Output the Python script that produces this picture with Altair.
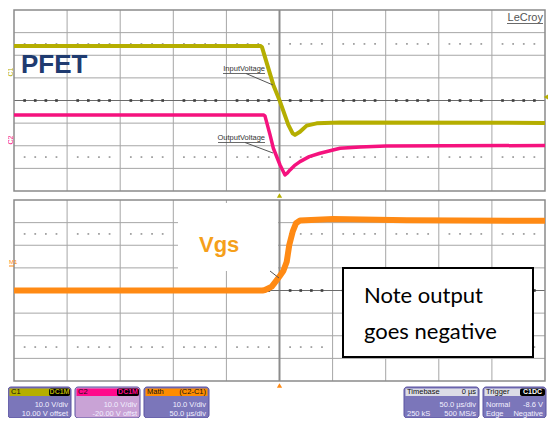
import altair as alt
import pandas as pd

# ---------------- values read from the screen capture ----------------
# time in microseconds (50 us/div, trigger at 0); amplitude in screen divisions
c1_time = [-250, -18.0, -16.5, -5.8, 0.5, 8.3, 12.4, 14.6, 19.3, 25.6, 35.0, 57.0, 250]
c1_div = [2.41, 2.41, 2.36, 0.69, -0.05, -1.08, -1.45, -1.52, -1.38, -1.11, -1.01, -0.97, -0.99]

c2_time = [-250, -15.0, -13.7, -8.9, -5.8, 0.5, 5.2, 7.5, 9.9, 14.0, 19.3, 28.0, 38.1, 57.0, 75.8, 100.3, 250]
c2_div = [-0.64, -0.64, -0.68, -1.52, -2.11, -2.85, -3.29, -3.20, -3.07, -2.88, -2.70, -2.48, -2.33, -2.11, -2.06, -2.01, -1.99]

math_time = [-250, -16.0, -13.7, -7.3, -2.6, -0.2, 3.6, 6.8, 9.2, 12.4, 15.5, 19.3, 50.4, 120, 250]
math_div = [0.0, 0.0, 0.02, 0.17, 0.46, 0.61, 0.86, 1.27, 2.01, 2.60, 2.97, 3.09, 3.16, 3.10, 3.08]

grid_times = [-250, -200, -150, -100, -50, 0, 50, 100, 150, 200, 250]
grid_divs = [-4, -3, -2, -1, 0, 1, 2, 3, 4]

channel_labels = ["C1", "C2", "M1"]
info_titles = ["C1", "C2", "Math", "Timebase", "Trigger"]
info_tags = ["DC1M", "DC1M", "(C2-C1)", "0 µs", "C1DC"]
info_row1_left = ["", "", "", "", "Normal"]
info_row1_right = ["10.0 V/div", "10.0 V/div", "10.0 V/div", "50.0 µs/div", "-8.6 V"]
info_row2_left = ["", "", "", "250 kS", "Edge"]
info_row2_right = ["10.00 V offset", "-20.00 V offst", "50.0 µs/div", "500 MS/s", "Negative"]

# ---------------- layout ----------------
W, H = 540, 410
PX_PER_DIV = 181 / 8
US_PER_PX = 500 / 531


def t_at(px):
    return -250 + (px - 14) * US_PER_PX


def d_at(py):
    return (100.5 - py) / PX_PER_DIV


BOT = d_at(290.5)  # centre of the lower graticule, in top-graticule divisions
xs = alt.Scale(domain=[t_at(8), t_at(8 + W)], nice=False, zero=False)
ys = alt.Scale(domain=[d_at(8 + H), d_at(8)], nice=False, zero=False)

FONT = "Liberation Sans"
YEL, PINK, ORG = "#b5ae00", "#f5127e", "#ff8a14"


def enc(df, two=True):
    e = dict(x=alt.X("t:Q", scale=xs, axis=None), y=alt.Y("d:Q", scale=ys, axis=None))
    if two:
        e["x2"] = alt.X2("t2:Q")
        e["y2"] = alt.Y2("d2:Q")
    return e


def rule_layer(rows, color, width):
    df = pd.DataFrame(rows, columns=["t", "t2", "d", "d2"])
    return alt.Chart(df).mark_rule(color=color, strokeWidth=width).encode(**enc(df))


def px_rule(rows, color, width):
    return rule_layer([(t_at(a), t_at(b), d_at(c), d_at(e)) for a, b, c, e in rows], color, width)


def px_rect(rows, **kw):
    df = pd.DataFrame([(t_at(a), t_at(b), d_at(c), d_at(e)) for a, b, c, e in rows],
                      columns=["t", "t2", "d", "d2"])
    return alt.Chart(df).mark_rect(**kw).encode(**enc(df))


def px_text(rows, **kw):
    df = pd.DataFrame([(t_at(a), d_at(b), s) for a, b, s in rows], columns=["t", "d", "s"])
    return alt.Chart(df).mark_text(**kw).encode(**enc(df, two=False), text="s:N")


layers = []

# ---- graticules ----
for off in [0.0, BOT]:
    inner_v = [(t, t, -4 + off, 4 + off) for t in grid_times[1:-1] if t != 0]
    inner_h = [(-250, 250, d + off, d + off) for d in grid_divs[1:-1] if d != 0]
    layers.append(rule_layer(inner_v + inner_h, "#a6a6a6", 1))
    # dotted rows at +/-2.5 div
    dots = pd.DataFrame([(t, s * 2.5 + off) for t in range(-240, 250, 10) if t % 50 != 0 for s in (-1, 1)],
                        columns=["t", "d"])
    layers.append(alt.Chart(dots).mark_square(size=3, color="#9c9c9c", opacity=1).encode(**enc(dots, two=False)))
    # centre lines
    layers.append(rule_layer([(0, 0, -4 + off, 4 + off)], "#8c8c8c", 2))
    layers.append(rule_layer([(-250, 250, off, off)], "#6a6a6a", 1.2))
    cdots = pd.DataFrame([(t, off) for t in range(-240, 250, 10) if t % 50 != 0], columns=["t", "d"])
    layers.append(alt.Chart(cdots).mark_square(size=7, color="#404040", opacity=1).encode(**enc(cdots, two=False)))
    # frame
    fr = pd.DataFrame([(-250, 250, -4 + off, 4 + off)], columns=["t", "t2", "d", "d2"])
    layers.append(alt.Chart(fr).mark_rect(fill=None, stroke="#8a8a8a", strokeWidth=1.5).encode(**enc(fr)))

# white patch behind "Vgs"
layers.append(px_rect([(178, 278, 203, 271)], fill="white"))

# ---- traces ----
math_df = pd.DataFrame({"t": math_time, "d": [v + BOT for v in math_div]})
c2_df = pd.DataFrame({"t": c2_time, "d": c2_div})
c1_df = pd.DataFrame({"t": c1_time, "d": c1_div})
layers.append(alt.Chart(math_df).mark_line(color=ORG, strokeWidth=6, strokeJoin="round").encode(**enc(math_df, two=False)))
layers.append(alt.Chart(c2_df).mark_line(color=PINK, strokeWidth=3.5, strokeJoin="round").encode(**enc(c2_df, two=False)))
layers.append(alt.Chart(c1_df).mark_line(color=YEL, strokeWidth=4, strokeJoin="round").encode(**enc(c1_df, two=False)))

# ---- trace labels and leaders ----
layers.append(px_rule([(223, 265, 73.5, 73.5), (218, 265, 142.5, 142.5), (507, 543, 23.5, 23.5)], "#444", 0.8))
layers.append(px_rule([(246, 273, 73.5, 85), (245, 273, 142.5, 153), (270, 279, 271, 278)], "#555", 1))
layers.append(px_text([(265, 72.5, "InputVoltage"), (265, 141.5, "OutputVoltage")],
                      align="right", baseline="bottom", font=FONT, fontSize=7.5, color="#333"))
layers.append(px_text([(543, 22.5, "LeCroy")], align="right", baseline="bottom", font=FONT, fontSize=11, color="#555"))
layers.append(px_text([(21, 65, "PFET")], align="left", baseline="middle", font=FONT, fontSize=26,
                      fontWeight="bold", color="#1f3b70"))
layers.append(px_text([(199, 252, "Vgs")], align="left", baseline="alphabetic", font=FONT, fontSize=22,
                      fontWeight="bold", color="#f5a01a"))

# channel markers on the left
layers.append(px_text([(11, 72, channel_labels[0])], angle=270, align="center", baseline="middle", font=FONT, fontSize=7, color=YEL))
layers.append(px_text([(11, 140, channel_labels[1])], angle=270, align="center", baseline="middle", font=FONT, fontSize=7, color=PINK))
layers.append(px_text([(9, 262, channel_labels[2])], align="left", baseline="middle", font=FONT, fontSize=6, color=ORG))
layers.append(px_rule([(9, 14, 266, 266)], ORG, 1))

# trigger markers
tri = pd.DataFrame([(0, d_at(195.5), YEL), (0, d_at(385.5), ORG)], columns=["t", "d", "c"])
layers.append(alt.Chart(tri).mark_point(shape="triangle-up", filled=True, size=28, opacity=1).encode(
    **enc(tri, two=False), color=alt.Color("c:N", scale=None)))
tri2 = pd.DataFrame([(t_at(546), d_at(97))], columns=["t", "d"])
layers.append(alt.Chart(tri2).mark_point(shape="triangle-left", filled=True, size=28, opacity=1, color=YEL).encode(
    **enc(tri2, two=False)))

# ---- note box ----
layers.append(px_rect([(343, 533, 268, 357)], fill="white", stroke="black", strokeWidth=2))
layers.append(px_text([(364, 303, "Note output"), (364, 339, "goes negative")], align="left",
                      baseline="alphabetic", font="Lato", fontSize=22, color="black"))

# ---- info boxes at the bottom ----
bx = [(8, 71), (75, 140), (144, 209), (404, 479), (483, 546)]
heads = [YEL, "#ff0a8c", "#ff8c00", "#dcdce6", "#dcdce6"]
bodies = ["#7b76ba", "#c9a3d6", "#7b76ba", "#7b76ba", "#7b76ba"]
Y0, Y1, HY = 387, 418, 396
for i, (a, b) in enumerate(bx):
    layers.append(px_rect([(a, b, Y0, Y1)], fill=bodies[i], stroke="#5b53a0", strokeWidth=1, cornerRadius=3))
    layers.append(px_rect([(a + 1.5, b - 1.5, Y0 + 1.5, HY)], fill=heads[i]))
tags = [(49, 70, YEL), (117, 139, "#ff0a8c"), (520, 545, "white")]
layers.append(px_rect([(a, b, Y0 + 1.5, HY) for a, b, _ in tags], fill="black", cornerRadius=2))
layers.append(px_text([(bx[i][0] + 3, 392, info_titles[i]) for i in range(5)], align="left", baseline="middle",
                      font=FONT, fontSize=7.5, color="#111"))
layers.append(px_text([(bx[2][1] - 3, 392, info_tags[2]), (bx[3][1] - 3, 392, info_tags[3])], align="right",
                      baseline="middle", font=FONT, fontSize=7.5, color="#111"))
for (a, b, c), s in zip(tags, [info_tags[0], info_tags[1], info_tags[4]]):
    layers.append(px_text([((a + b) / 2, 392, s)], align="center", baseline="middle", font=FONT, fontSize=7,
                          fontWeight="bold", color=c))
layers.append(px_text([(bx[i][1] - 3, 404.5, info_row1_right[i]) for i in range(5)] +
                      [(bx[i][1] - 3, 413.5, info_row2_right[i]) for i in range(5)],
                      align="right", baseline="middle", font=FONT, fontSize=7.5, color="#f2f0ff"))
layers.append(px_text([(bx[i][0] + 3, 404.5, info_row1_left[i]) for i in range(5) if info_row1_left[i]] +
                      [(bx[i][0] + 3, 413.5, info_row2_left[i]) for i in range(5) if info_row2_left[i]],
                      align="left", baseline="middle", font=FONT, fontSize=7.5, color="#f2f0ff"))

chart = alt.layer(*layers).properties(
    width=W, height=H, padding=0,
    autosize=alt.AutoSizeParams(type="none"),
).configure_view(stroke=None)

chart.save("out.html", embed_options={"renderer": "svg", "actions": False})
